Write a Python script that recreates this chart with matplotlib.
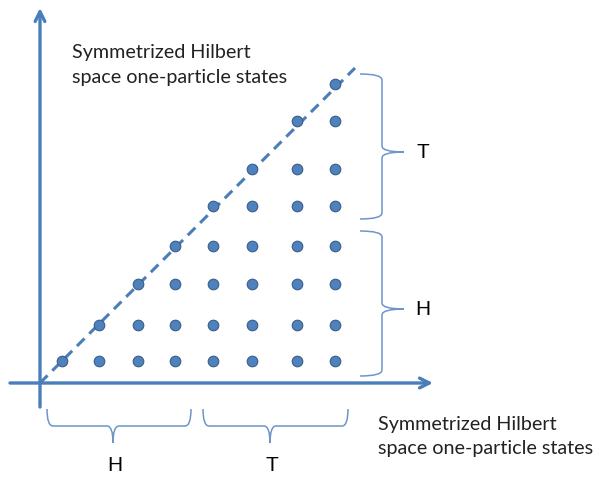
import numpy as np
import matplotlib
matplotlib.use("Agg")
import matplotlib.pyplot as plt
from matplotlib.path import Path
from matplotlib.patches import PathPatch

# Positions of the state grid (pixel-like diagram units, y grows downward)
col_x = [62, 99, 138, 175, 213, 252, 297, 335]
row_y = [362, 326, 285, 247, 207, 170, 122, 85]

origin = (40, 384)
diag_end = (355, 69)

# braces: (start, end, tip position along the brace, label)
right_braces = [((360, 75), (360, 220), 153, "T"),
                ((360, 232), (360, 377), 310, "H")]
bottom_braces = [((47, 410), (191, 410), 113, "H"),
                 ((203, 410), (348, 410), 270, "T")]

axis_label = ["Symmetrized Hilbert", "space one-particle states"]

BLUE = "#4a7ebb"
DOT = "#4f81bd"
DOT_EDGE = "#385d8a"
BRACE = "#6d95c8"


def brace_path(a, b, n, h, tip, r=6):
    a = np.array(a, float)
    b = np.array(b, float)
    n = np.array(n, float)
    t = (b - a) / np.linalg.norm(b - a)
    k = np.argmax(np.abs(t))
    m = a + t * (tip - a[k])
    verts = [a,
             a + n * h, a + n * h + t * r,
             m + n * h - t * r,
             m + n * h, m + n * (2 * h),
             m + n * h, m + n * h + t * r,
             b + n * h - t * r,
             b + n * h, b]
    codes = [Path.MOVETO,
             Path.CURVE3, Path.CURVE3,
             Path.LINETO,
             Path.CURVE3, Path.CURVE3,
             Path.CURVE3, Path.CURVE3,
             Path.LINETO,
             Path.CURVE3, Path.CURVE3]
    return Path(verts, codes)


fig = plt.figure(figsize=(5.95, 4.81), dpi=100)
ax = fig.add_axes([0, 0, 1, 1])
ax.set_xlim(0, 595)
ax.set_ylim(481, 0)
ax.axis("off")

# axes arrows
arrow = dict(arrowstyle="->,head_length=0.7,head_width=0.35",
             color=BLUE, lw=2.4, shrinkA=0, shrinkB=0)
ax.annotate("", xy=(40, 9), xytext=(40, 408), arrowprops=arrow)
ax.annotate("", xy=(433, 384), xytext=(10, 384), arrowprops=arrow)

# dashed diagonal
ax.plot([origin[0], diag_end[0]], [origin[1], diag_end[1]], color=BLUE, lw=2.2,
        dashes=(3.5, 2.2), solid_capstyle="butt")

# states
xs, ys = [], []
for i, y in enumerate(row_y):
    for x in col_x[i:]:
        xs.append(x)
        ys.append(y)
ax.scatter(xs, ys, s=58, color=DOT, edgecolor=DOT_EDGE, linewidth=0.8, zorder=3)

# braces
for a, b, tip, lab in right_braces:
    ax.add_patch(PathPatch(brace_path(a, b, (1, 0), 22, tip), fill=False,
                           edgecolor=BRACE, lw=1.1))
    ax.text(a[0] + 63, tip, lab, fontsize=15, family="Liberation Sans",
            ha="center", va="center")
for a, b, tip, lab in bottom_braces:
    ax.add_patch(PathPatch(brace_path(a, b, (0, 1), 17, tip), fill=False,
                           edgecolor=BRACE, lw=1.1))
    ax.text(tip + 2, 466, lab, fontsize=15, family="Liberation Sans",
            ha="center", va="center")

# axis captions
for x0, baselines in [(72, (58, 83)), (378, (430, 454))]:
    for line, yb in zip(axis_label, baselines):
        ax.text(x0, yb, line, fontsize=14.2, family="Lato", ha="left",
                va="baseline", color="#222222")

fig.savefig("out.png", dpi=100)
